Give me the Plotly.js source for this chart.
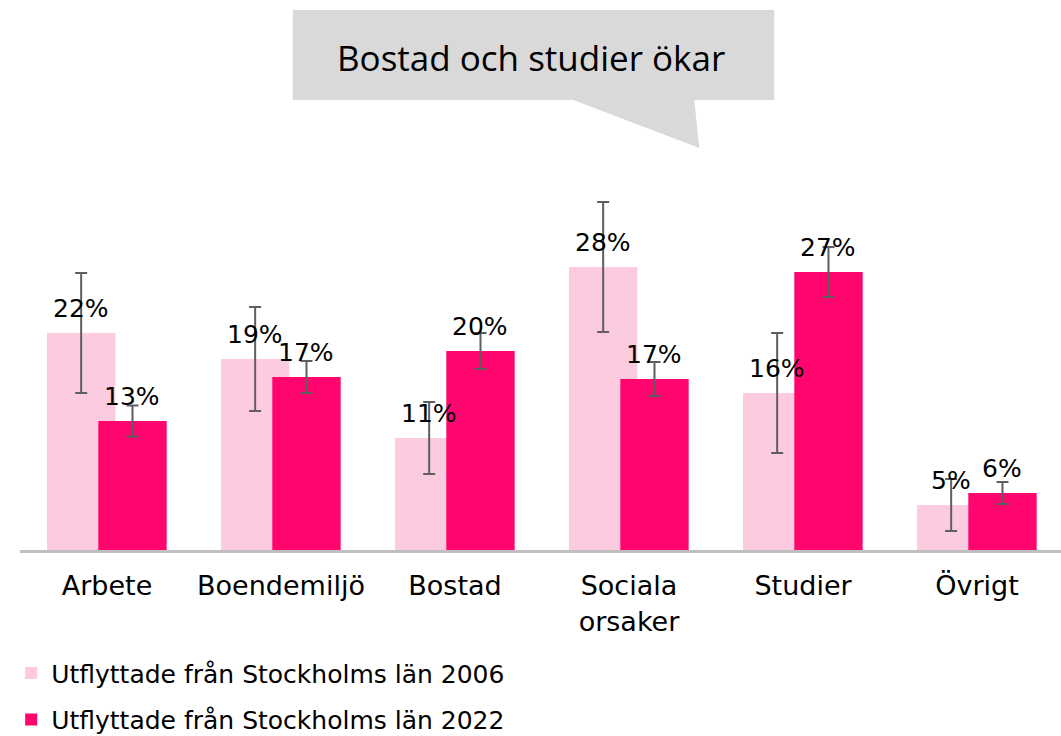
<!DOCTYPE html>
<html>
<head>
<meta charset="utf-8">
<script src="https://cdn.plot.ly/plotly-3.0.1.min.js"></script>
<style>
html,body{margin:0;padding:0;overflow:hidden;background:#fff;}
#chart{width:1064px;height:736px;}
</style>
</head>
<body>
<div id="chart"></div>
<script>
// ---- data ----
const categories = ['Arbete', 'Boendemiljö', 'Bostad', 'Sociala<br>orsaker', 'Studier', 'Övrigt'];
const values2006 = [21.7, 19.1, 11.2, 28.3, 15.7, 4.5];
const values2022 = [12.9, 17.3, 19.9, 17.1, 27.8, 5.7];
const errors2006 = [6.0, 5.2, 3.6, 6.5, 6.0, 2.6];
const errors2022 = [1.55, 1.6, 1.8, 1.7, 2.5, 1.1];
const labels2006 = ['22%', '19%', '11%', '28%', '16%', '5%'];
const labels2022 = ['13%', '17%', '20%', '17%', '27%', '6%'];
const seriesNames = ['Utflyttade från Stockholms län 2006', 'Utflyttade från Stockholms län 2022'];
const calloutText = 'Bostad och studier ökar';

// ---- layout constants ----
const W = 1064, H = 736;
const M = {l: 20, r: 0, t: 150, b: 186, autoexpand: false};
const barWidth = 0.393;
const offsets = [-0.345, -0.050];
const colors = ['#fccbdf', '#ff066e'];
const FAM = '"DejaVu Sans", Verdana, sans-serif';
const labelFont = {family: FAM, size: 25, color: '#000'};

function trace(vals, errs, name, i) {
  return {
    type: 'bar', x: categories, y: vals, name: name,
    legendgroup: 'g' + i,
    width: barWidth, offset: offsets[i],
    marker: {color: colors[i], line: {width: 0}},
    error_y: {type: 'data', array: errs, visible: true, color: '#5f5f5f', thickness: 2, width: 6},
    hoverinfo: 'skip'
  };
}
const data = [
  trace(values2006, errors2006, seriesNames[0], 0),
  trace(values2022, errors2022, seriesNames[1], 1)
];

// data labels as annotations above each bar
const annotations = [];
[[values2006, labels2006, 0], [values2022, labels2022, 1]].forEach(([vals, labs, i]) => {
  vals.forEach((v, k) => {
    annotations.push({
      xref: 'x', yref: 'y', x: k + offsets[i] + barWidth / 2, y: v,
      text: labs[k], showarrow: false, xanchor: 'center', yanchor: 'bottom',
      yshift: 8, font: labelFont
    });
  });
});

// callout bubble (pixel -> paper helpers)
const pw = W - M.l - M.r, ph = H - M.t - M.b;
const px = x => ((x - M.l) / pw).toFixed(5);
const py = y => ((H - M.b - y) / ph).toFixed(5);
const pts = [[292.7,10],[774.3,10],[774.3,100],[694.3,100],[699.3,148],[573.3,100],[292.7,100]];
const path = 'M ' + pts.map(p => px(p[0]) + ',' + py(p[1])).join(' L ') + ' Z';

annotations.push({
  xref: 'paper', yref: 'paper', x: +px(531), y: +py(57),
  xanchor: 'center', yanchor: 'middle', showarrow: false,
  text: calloutText, font: {family: '"Open Sans", sans-serif', size: 35, color: '#000'}
});

const layout = {
  width: W, height: H,
  margin: M,
  paper_bgcolor: '#fff', plot_bgcolor: '#fff',
  barmode: 'overlay',
  showlegend: true,
  legend: {
    orientation: 'v', xref: 'container', yref: 'container',
    x: 0.0105, xanchor: 'left', y: 0.1165, yanchor: 'top',
    font: {family: FAM, size: 25, color: '#000'},
    tracegroupgap: 11, bgcolor: 'rgba(0,0,0,0)'
  },
  xaxis: {
    type: 'category', showgrid: false, zeroline: false,
    showline: true, linecolor: '#bfbfbf', linewidth: 3,
    ticks: '', ticklabelstandoff: 10,
    tickfont: {family: FAM, size: 27, color: '#000'},
    fixedrange: true, automargin: false
  },
  yaxis: {
    range: [0, 40], showgrid: false, zeroline: false, showline: false,
    showticklabels: false, ticks: '', fixedrange: true, automargin: false
  },
  shapes: [{
    type: 'path', xref: 'paper', yref: 'paper', path: path,
    fillcolor: '#d9d9d9', line: {width: 0}, layer: 'above'
  }],
  annotations: annotations
};

Plotly.newPlot('chart', data, layout, {displayModeBar: false, staticPlot: true});
</script>
</body>
</html>
